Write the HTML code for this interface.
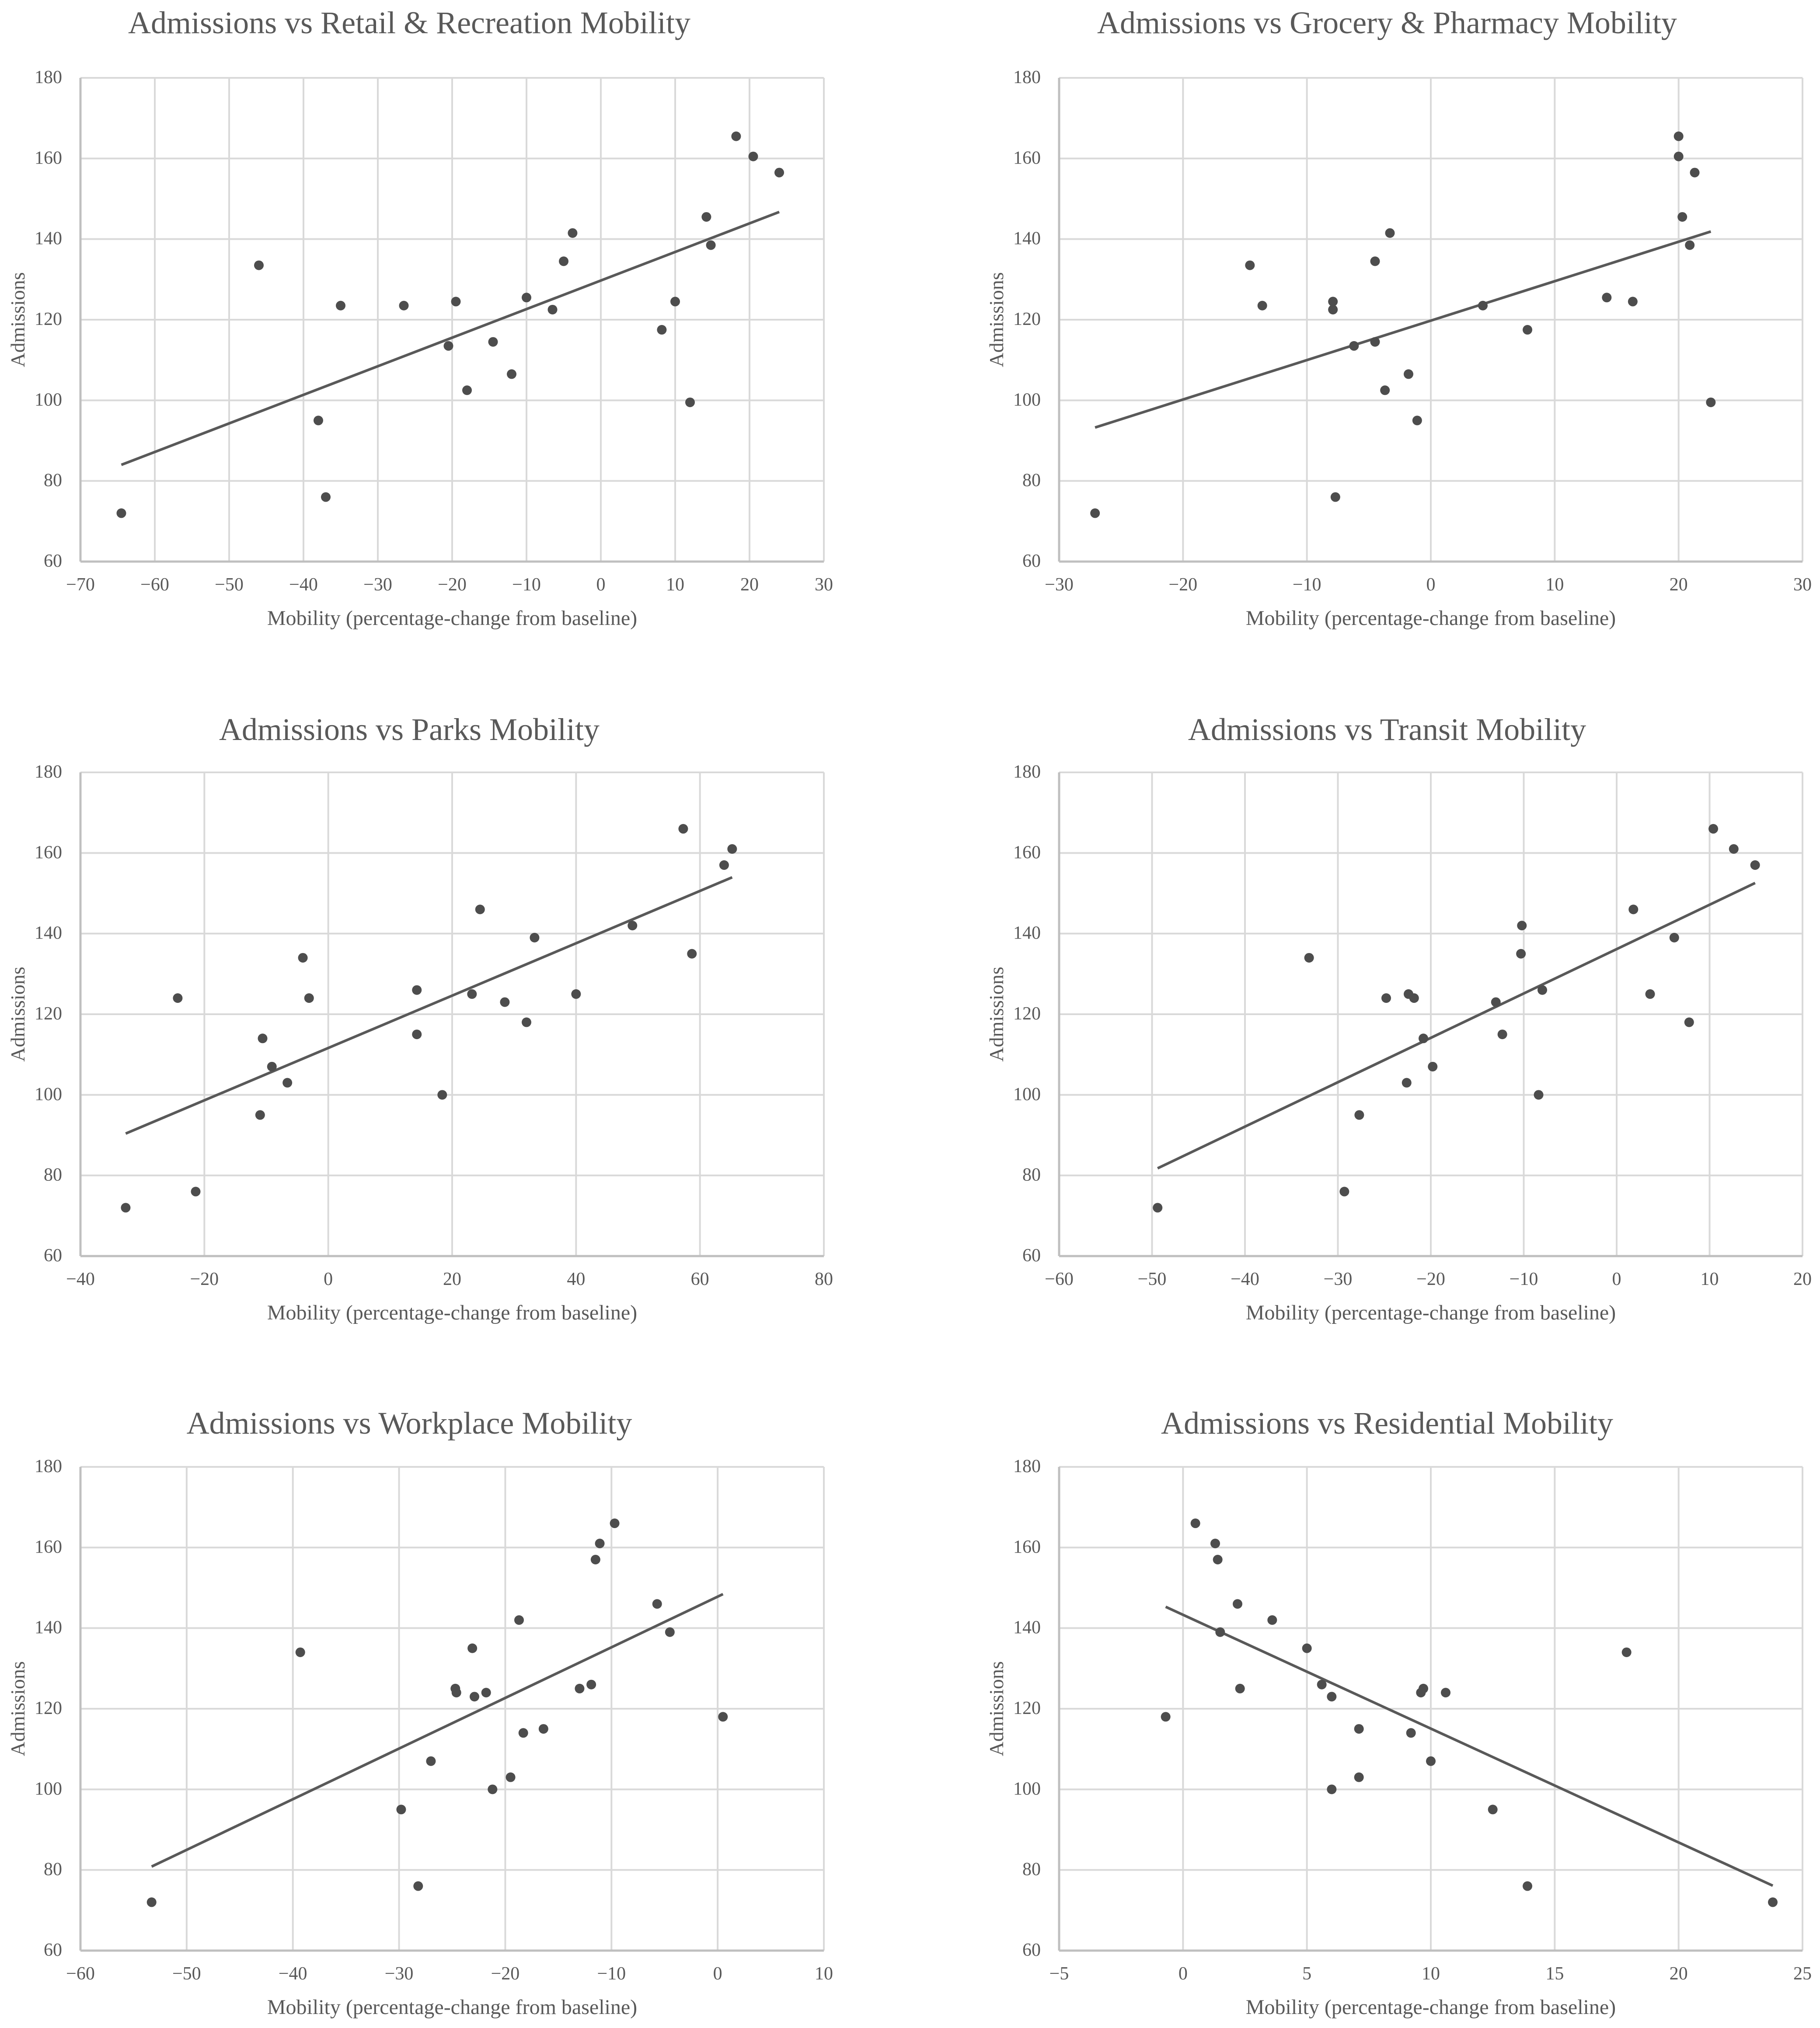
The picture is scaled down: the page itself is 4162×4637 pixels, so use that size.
<!DOCTYPE html>
<html><head><meta charset="utf-8">
<style>
html,body{margin:0;padding:0;background:#fff;}
svg{display:block;}
text{font-family:"Liberation Serif",serif;fill:#595959;}
</style></head>
<body>
<svg id="root" width="4162" height="4637" viewBox="0 0 4162 4637" xmlns="http://www.w3.org/2000/svg"></svg>
<script>
const admissions = [72,133.5,95,76,123.5,123.5,113.5,124.5,102.5,114.5,106.5,125.5,122.5,134.5,141.5,117.5,124.5,99.5,145.5,138.5,165.5,160.5,156.5];
const retailX = [-64.5,-46,-38,-37,-35,-26.5,-20.5,-19.5,-18,-14.5,-12,-10,-6.5,-5,-3.8,8.2,10,12,14.2,14.8,18.2,20.5,24];

const groceryX = [-27.1,-14.6,-13.6,-7.9,-7.9,-7.7,-6.2,-4.5,-4.5,-3.7,-3.3,-1.8,-1.1,4.2,7.8,14.2,16.3,20.0,20.0,20.3,21.3,20.9,22.6];
const groceryY = [72,133.5,123.5,124.5,122.5,76,113.5,114.5,134.5,102.5,141.5,106.5,95,123.5,117.5,125.5,124.5,165.5,160.5,145.5,156.5,138.5,99.5];

const parksX = [-32.7,-21.4,-24.3,-10.6,-11,-9.1,-6.6,-4.1,-3.1,14.3,14.3,18.4,23.2,24.5,28.5,32,33.3,40,49.1,57.3,58.7,63.9,65.2];
const parksY = [72,76,124,114,95,107,103,134,124,115,126,100,125,146,123,118,139,125,142,166,135,157,161];

const transitX = [-49.4,-33.1,-29.3,-27.7,-24.8,-22.4,-21.8,-22.6,-20.8,-19.8,-13,-12.3,-10.3,-10.2,-8.4,-8,1.8,3.6,6.2,7.8,10.4,12.6,14.9];
const transitY = [72,134,76,95,124,125,124,103,114,107,123,115,135,142,100,126,146,125,139,118,166,161,157];

const workX = [-53.3,-39.3,-29.8,-28.2,-27,-24.7,-24.6,-23.1,-22.9,-21.8,-21.2,-19.5,-18.7,-18.3,-16.4,-13,-11.9,-11.5,-11.1,-9.7,-5.7,-4.5,0.5];
const workY = [72,134,95,76,107,125,124,135,123,124,100,103,142,114,115,125,126,157,161,166,146,139,118];

const resX = [-0.7,0.5,1.3,1.4,1.5,2.2,2.3,3.6,5.0,5.6,6.0,6.0,7.1,7.1,9.2,9.6,9.7,10.0,10.6,12.5,13.9,17.9,23.8];
const resY = [118,166,161,157,139,146,125,142,135,126,123,100,115,103,114,124,125,107,124,95,76,134,72];

const yTicks = [60,80,100,120,140,160,180];
const ticksRetail = [-70,-60,-50,-40,-30,-20,-10,0,10,20,30];
const ticksGrocery = [-30,-20,-10,0,10,20,30];
const ticksParks = [-40,-20,0,20,40,60,80];
const ticksTransit = [-60,-50,-40,-30,-20,-10,0,10,20];
const ticksWork = [-60,-50,-40,-30,-20,-10,0,10];
const ticksRes = [-5,0,5,10,15,20,25];

const titles = ["Admissions vs Retail & Recreation Mobility","Admissions vs Grocery & Pharmacy Mobility","Admissions vs Parks Mobility","Admissions vs Transit Mobility","Admissions vs Workplace Mobility","Admissions vs Residential Mobility"];

const charts = [
  {key:'retail', xs:retailX, ys:admissions, ticks:ticksRetail, col:0, row:0},
  {key:'grocery', xs:groceryX, ys:groceryY, ticks:ticksGrocery, col:1, row:0},
  {key:'parks', xs:parksX, ys:parksY, ticks:ticksParks, col:0, row:1},
  {key:'transit', xs:transitX, ys:transitY, ticks:ticksTransit, col:1, row:1},
  {key:'workplace', xs:workX, ys:workY, ticks:ticksWork, col:0, row:2},
  {key:'residential', xs:resX, ys:resY, ticks:ticksRes, col:1, row:2}
];

const NS = "http://www.w3.org/2000/svg";
const root = document.getElementById('root');
const colLeft = [184, 2422];
const plotW = 1700, plotH = 1106;
const rowTop = [178, 1766, 3354];
const titleBase = [76, 1692, 3278];
const titleCx = [936, 3172];

function mk(tag, attrs, parent){
  const e = document.createElementNS(NS, tag);
  for (const k in attrs) e.setAttribute(k, attrs[k]);
  parent.appendChild(e);
  return e;
}

charts.forEach((c, i) => {
  const L = colLeft[c.col], T = rowTop[c.row], B = T + plotH, R = L + plotW;
  const xmin = c.ticks[0], xmax = c.ticks[c.ticks.length-1];
  const sx = v => L + (v - xmin) / (xmax - xmin) * plotW;
  const sy = v => B - (v - 60) / 120 * plotH;
  const g = mk('g', {}, root);
  
  

  const t = mk('text', {x: titleCx[c.col], y: titleBase[c.row], 'text-anchor':'middle', 'font-size':72}, g);
  t.textContent = titles[i];
  
  

  c.ticks.forEach(tv => {
    const x = sx(tv);
    const gl = mk('line', {x1:x, x2:x, y1:T, y2:B, stroke:'#d9d9d9', 'stroke-width':4}, g);
    
    
    const lb = mk('text', {x:x, y:B+66, 'text-anchor':'middle', 'font-size':42}, g);
    lb.textContent = tv < 0 ? '\u2212' + Math.abs(tv) : String(tv);
    
    
  });
  yTicks.forEach(tv => {
    const y = sy(tv);
    const gl = mk('line', {x1:L, x2:R, y1:y, y2:y, stroke:'#d9d9d9', 'stroke-width':4}, g);
    
    
    const lb = mk('text', {x:L-42, y:y+12, 'text-anchor':'end', 'font-size':42}, g);
    lb.textContent = String(tv);
    
    
  });
  const ax = mk('line', {x1:L, x2:L, y1:T, y2:B, stroke:'#bfbfbf', 'stroke-width':5}, g);
  
  
  const ax2 = mk('line', {x1:L, x2:R, y1:B, y2:B, stroke:'#bfbfbf', 'stroke-width':5}, g);
  
  

  // trendline via least squares
  const n = c.xs.length;
  let mx=0,my=0; for(let k=0;k<n;k++){mx+=c.xs[k];my+=c.ys[k];} mx/=n; my/=n;
  let sxy=0,sxx=0; for(let k=0;k<n;k++){sxy+=(c.xs[k]-mx)*(c.ys[k]-my);sxx+=(c.xs[k]-mx)**2;}
  const b = sxy/sxx, a = my - b*mx;
  const x0 = Math.min(...c.xs), x1 = Math.max(...c.xs);
  const tl = mk('line', {x1:sx(x0), y1:sy(a+b*x0), x2:sx(x1), y2:sy(a+b*x1), stroke:'#595959', 'stroke-width':6}, g);
  
  

  for (let k=0;k<n;k++){
    const p = mk('circle', {cx:sx(c.xs[k]), cy:sy(c.ys[k]), r:11, fill:'#4d4d4d'}, g);
    
    
  }

  const yt = mk('text', {x:0, y:0, 'text-anchor':'middle', 'font-size':46, transform:'translate(' + (L-128) + ',' + (T+plotH/2) + ') rotate(-90)'}, g);
  yt.textContent = 'Admissions';
  
  
  const xt = mk('text', {x:L+plotW/2, y:B+145, 'text-anchor':'middle', 'font-size':48}, g);
  xt.textContent = 'Mobility (percentage-change from baseline)';
  
  
});
</script>
</body></html>
